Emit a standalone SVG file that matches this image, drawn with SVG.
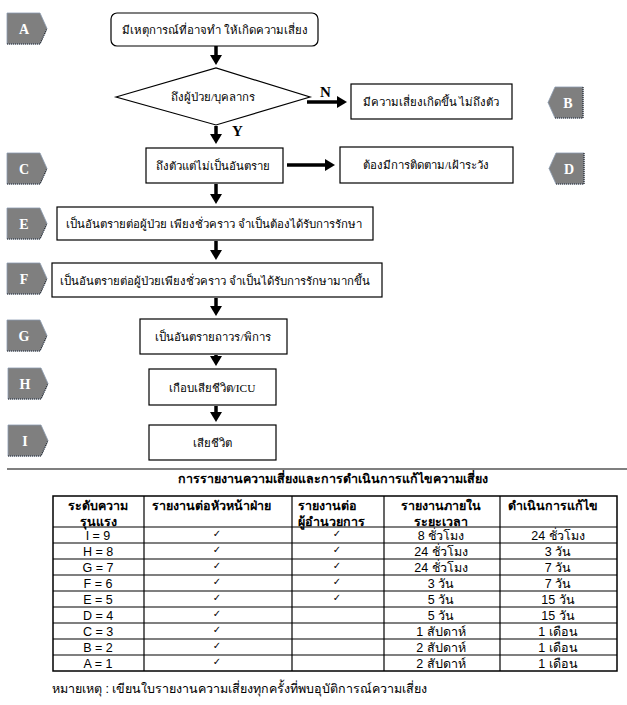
<svg xmlns="http://www.w3.org/2000/svg" width="627" height="705" viewBox="0 0 627 705">
<style>
.bx{fill:#fff;stroke:#000;stroke-width:1.2}
.ft{font-family:"Liberation Serif","Noto Sans",serif;font-size:11.4px;fill:#000;text-anchor:middle}
.lb{font-family:"Liberation Serif",serif;font-size:15px;font-weight:bold;fill:#000}
.tag{fill:#7f7f7f;stroke:#8a9bb0;stroke-width:0.8}
.tagb{fill:none;stroke:#222;stroke-width:1.2;stroke-dasharray:1,1}
.tl{font-family:"Liberation Serif",serif;font-size:14px;font-weight:bold;fill:#fff;text-anchor:middle}
.arr{stroke:#000;stroke-width:3.5;fill:none;marker-end:url(#ah)}
.tb{font-family:"Liberation Sans","Noto Sans",sans-serif;font-size:12.5px;fill:#000}
.th{font-family:"Liberation Sans","Noto Sans",sans-serif;font-size:12.5px;font-weight:bold;fill:#000}
.c{text-anchor:middle}
.ck{font-family:"DejaVu Sans",sans-serif;font-size:10px;fill:#000;text-anchor:middle}
.gl{stroke:#000;stroke-width:1.2}
</style>
<defs>
<marker id="ah" markerUnits="userSpaceOnUse" markerWidth="12" markerHeight="12" refX="3" refY="6" orient="auto">
<path d="M0,0 L10,6 L0,12 Z" fill="#000"/>
</marker>
<g id="tr"><path class="tag" d="M0,0 H33 L40,15.5 L33,31 H0 Z"/><path class="tagb" d="M0,31 H33 L40,15.5"/></g>
<g id="tlft"><path class="tag" d="M35,0 H7 L0,15.5 L7,31 H35 Z"/><path class="tagb" d="M35,0 V31 H7"/></g>
</defs>

<g id="tags">
<g id="tagA"><use href="#tr" x="7" y="13"/><text class="tl" x="24" y="34">A</text></g>
<g id="tagB"><use href="#tlft" x="548" y="87"/><text class="tl" x="568" y="108">B</text></g>
<g id="tagC"><use href="#tr" x="7" y="153"/><text class="tl" x="24" y="174">C</text></g>
<g id="tagD"><use href="#tlft" x="549" y="153"/><text class="tl" x="569" y="174">D</text></g>
<g id="tagE"><use href="#tr" x="7" y="208"/><text class="tl" x="24" y="229">E</text></g>
<g id="tagF"><use href="#tr" x="7" y="263"/><text class="tl" x="24" y="284">F</text></g>
<g id="tagG"><use href="#tr" x="7" y="320"/><text class="tl" x="24" y="341">G</text></g>
<g id="tagH"><use href="#tr" x="8" y="368"/><text class="tl" x="25" y="389">H</text></g>
<g id="tagI"><use href="#tr" x="8" y="425"/><text class="tl" x="25" y="446">I</text></g>
</g>

<g id="connectors">
<line class="arr" x1="216" y1="46" x2="216" y2="58"/>
<line class="arr" x1="216" y1="126" x2="216" y2="137"/>
<line class="arr" x1="307" y1="102" x2="340" y2="102"/>
<line class="arr" x1="287" y1="165" x2="328" y2="165"/>
<line class="arr" x1="216" y1="184" x2="216" y2="197"/>
<line class="arr" x1="216" y1="241" x2="216" y2="253"/>
<line class="arr" x1="216" y1="298" x2="216" y2="309"/>
<line class="arr" x1="216" y1="355" x2="216" y2="359"/>
<line class="arr" x1="216" y1="406" x2="216" y2="415"/>
<text class="lb" x="320" y="97">N</text>
<text class="lb" x="232" y="136">Y</text>
</g>

<g id="nodeA"><rect class="bx" x="111" y="13" width="207" height="33" rx="6"/><text class="ft" x="215" y="34">มีเหตุการณ์ที่อาจทำ ให้เกิดความเสี่ยง</text></g>
<g id="nodeDec"><path class="bx" d="M116,97 L216,68 L310,97 L216,125 Z"/><text class="ft" x="213" y="101">ถึงผู้ป่วย/บุคลากร</text></g>
<g id="nodeB"><rect class="bx" x="351" y="84" width="161" height="35"/><text class="ft" x="431" y="106">มีความเสี่ยงเกิดขึ้น ไม่ถึงตัว</text></g>
<g id="nodeC"><rect class="bx" x="146" y="148" width="137" height="35"/><text class="ft" x="213" y="170">ถึงตัวแต่ไม่เป็นอันตราย</text></g>
<g id="nodeD"><rect class="bx" x="340" y="147" width="173" height="36"/><text class="ft" x="426" y="169">ต้องมีการติดตาม/เฝ้าระวัง</text></g>
<g id="nodeE"><rect class="bx" x="57" y="207" width="316" height="33"/><text class="ft" x="214" y="228">เป็นอันตรายต่อผู้ป่วย เพียงชั่วคราว จำเป็นต้องได้รับการรักษา</text></g>
<g id="nodeF"><rect class="bx" x="52" y="263" width="330" height="34"/><text class="ft" x="215" y="285">เป็นอันตรายต่อผู้ป่วยเพียงชั่วคราว จำเป็นได้รับการรักษามากขึ้น</text></g>
<g id="nodeG"><rect class="bx" x="140" y="319" width="147" height="35"/><text class="ft" x="213" y="341">เป็นอันตรายถาวร/พิการ</text></g>
<g id="nodeH"><rect class="bx" x="149" y="369" width="127" height="36"/><text class="ft" x="212" y="392">เกือบเสียชีวิต/ICU</text></g>
<g id="nodeI"><rect class="bx" x="149" y="425" width="127" height="35"/><text class="ft" x="212" y="447">เสียชีวิต</text></g>

<line x1="7" y1="469" x2="627" y2="469" stroke="#000" stroke-width="1.2"/>

<g id="table">
<text class="th c" x="333" y="483">การรายงานความเสี่ยงและการดำเนินการแก้ไขความเสี่ยง</text>
<rect x="53" y="496" width="564" height="175" fill="none" stroke="#000" stroke-width="1.5"/>
<g class="gl">
<line x1="144" y1="496" x2="144" y2="671"/>
<line x1="292" y1="496" x2="292" y2="671"/>
<line x1="384" y1="496" x2="384" y2="671"/>
<line x1="500" y1="496" x2="500" y2="671"/>
<line x1="53" y1="527" x2="617" y2="527"/>
<line x1="53" y1="543" x2="617" y2="543"/>
<line x1="53" y1="559" x2="617" y2="559"/>
<line x1="53" y1="575" x2="617" y2="575"/>
<line x1="53" y1="591" x2="617" y2="591"/>
<line x1="53" y1="607" x2="617" y2="607"/>
<line x1="53" y1="623" x2="617" y2="623"/>
<line x1="53" y1="639" x2="617" y2="639"/>
<line x1="53" y1="655" x2="617" y2="655"/>
</g>
<text class="th c" x="98" y="510">ระดับความ</text>
<text class="th c" x="98" y="526">รุนแรง</text>
<text class="th" x="152" y="510">รายงานต่อหัวหน้าฝ่าย</text>
<text class="th" x="298" y="510">รายงานต่อ</text>
<text class="th" x="298" y="526">ผู้อำนวยการ</text>
<text class="th c" x="441" y="510">รายงานภายใน</text>
<text class="th c" x="441" y="526">ระยะเวลา</text>
<text class="th" x="508" y="510">ดำเนินการแก้ไข</text>

<g class="tb c">
<text x="98" y="540">I = 9</text><text x="98" y="556">H = 8</text><text x="98" y="572">G = 7</text>
<text x="98" y="588">F = 6</text><text x="98" y="604">E = 5</text><text x="98" y="620">D = 4</text>
<text x="98" y="636">C = 3</text><text x="98" y="652">B = 2</text><text x="98" y="668">A = 1</text>
<text x="441" y="540">8 ชั่วโมง</text><text x="441" y="556">24 ชั่วโมง</text><text x="441" y="572">24 ชั่วโมง</text>
<text x="441" y="588">3 วัน</text><text x="441" y="604">5 วัน</text><text x="441" y="620">5 วัน</text>
<text x="441" y="636">1 สัปดาห์</text><text x="441" y="652">2 สัปดาห์</text><text x="441" y="668">2 สัปดาห์</text>
<text x="558" y="540">24 ชั่วโมง</text><text x="558" y="556">3 วัน</text><text x="558" y="572">7 วัน</text>
<text x="558" y="588">7 วัน</text><text x="558" y="604">15 วัน</text><text x="558" y="620">15 วัน</text>
<text x="558" y="636">1 เดือน</text><text x="558" y="652">1 เดือน</text><text x="558" y="668">1 เดือน</text>
</g>
<g class="ck">
<text x="217" y="537">✓</text><text x="217" y="553">✓</text><text x="217" y="569">✓</text>
<text x="217" y="585">✓</text><text x="217" y="601">✓</text><text x="217" y="617">✓</text>
<text x="217" y="633">✓</text><text x="217" y="649">✓</text><text x="217" y="665">✓</text>
<text x="337" y="537">✓</text><text x="337" y="553">✓</text><text x="337" y="569">✓</text>
<text x="337" y="585">✓</text><text x="337" y="601">✓</text>
</g>
</g>
<text class="tb" x="52" y="693">หมายเหตุ : เขียนใบรายงานความเสี่ยงทุกครั้งที่พบอุบัติการณ์ความเสี่ยง</text>
</svg>
